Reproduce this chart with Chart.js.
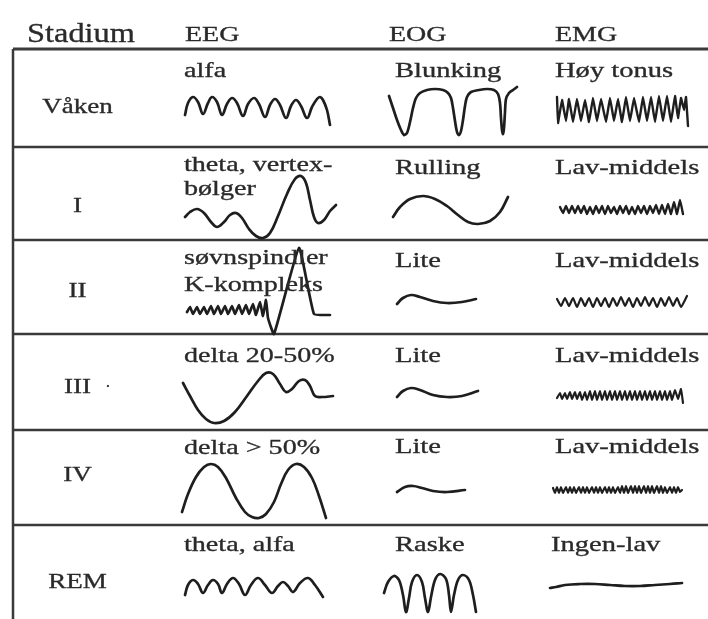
<!DOCTYPE html>
<html><head><meta charset="utf-8">
<script src="https://cdn.jsdelivr.net/npm/chart.js@4.4.0/dist/chart.umd.min.js"></script>
<style>
html,body{margin:0;padding:0;background:#fff;}
#wrap{position:relative;width:708px;height:619px;overflow:hidden;background:#fff;}
#c{position:absolute;left:0;top:0;}
#txt{position:absolute;left:0;top:0;}
#txt text{font-family:"Liberation Serif","Times New Roman",serif;fill:#2a2a2a;stroke:#2a2a2a;stroke-width:0.32px;}
</style></head>
<body><div id="wrap"><canvas id="c" width="708" height="619"></canvas><svg id="txt" width="708" height="619" xmlns="http://www.w3.org/2000/svg"></svg></div>
<script>
// ---------- DATA ----------
const headers = ['Stadium', 'EEG', 'EOG', 'EMG'];
const stages = ['Våken', 'I', 'II', 'III', 'IV', 'REM'];
const eegLabels = [['alfa'], ['theta, vertex-', 'bølger'], ['søvnspindler', 'K-kompleks'], ['delta 20-50%'], ['delta > 50%'], ['theta, alfa']];
const eogLabels = ['Blunking', 'Rulling', 'Lite', 'Lite', 'Lite', 'Raske'];
const emgLabels = ['Høy tonus', 'Lav-middels', 'Lav-middels', 'Lav-middels', 'Lav-middels', 'Ingen-lav'];

// waveform samples: [time, amplitude] (amplitude up = positive)
const eegVaken = [[0,0],[3,12],[8,18],[13,13],[18,1],[23,12],[27,18],[32,13],[37,0],[42,11],[47,17],[52,12],[58,-1],[63,11],[69,17],[74,11],[80,-2],[85,10],[90,16],[95,10],[101,-3],[106,9],[111,15],[116,9],[122,-3],[127,8],[132,16],[135,18],[138,15],[142,5],[145,-10]];
const eegI = [[0,0],[5,5],[12,8],[19,4],[26,-5],[32,-10],[39,-5],[45,2],[51,4],[57,-1],[64,-12],[71,-19],[78,-21],[85,-16],[93,1],[102,23],[110,38],[116,41],[121,34],[125,17],[129,0],[133,-6],[139,-3],[145,6],[151,12]];
const eegII = [[0,0],[3,5],[6,-2],[10,5],[13,-2],[17,5],[20,-2],[24,6],[27,-2],[31,6],[34,-2],[38,6],[41,-2],[45,6],[48,-2],[52,7],[55,-2],[59,7],[62,-2],[66,8],[69,-3],[73,10],[76,-4],[79,12],[81,-6],[87,-22],[112,64],[127,-2],[143,-3]];
const eegIII = [[0,0],[7,-13],[15,-27],[23,-36],[31,-40],[41,-38],[52,-29],[64,-13],[75,2],[83,10],[90,9],[97,-1],[103,-9],[109,-6],[116,2],[122,3],[127,-3],[132,-13],[139,-14],[150,-13]];
const eegIV = [[0,0],[6,18],[14,35],[22,45],[29,48],[36,45],[44,34],[54,14],[63,0],[70,-5],[77,-6],[84,-2],[92,10],[99,28],[106,42],[114,48],[122,45],[130,34],[137,16],[144,-6]];
const eegREM = [[0,-2],[3,8],[8,13],[13,9],[18,0],[23,8],[28,13],[33,9],[37,0],[42,9],[48,15],[54,9],[60,-2],[66,8],[73,15],[80,8],[87,0],[93,7],[98,11],[103,7],[108,1],[115,10],[123,15],[130,8],[138,-4]];

const eogVaken = [[1,-1],[5,-13],[9,-25],[13,-35],[16,-40],[19,-38],[22,-27],[25,-13],[28,-3],[32,2],[39,5],[47,6],[55,5],[60,2],[63,-3],[65,-13],[67,-26],[69,-37],[71,-40],[73,-36],[75,-25],[77,-11],[79,-2],[83,3],[91,5],[99,6],[106,5],[110,1],[112,-8],[113,-23],[114,-35],[115,-39],[116,-33],[117,-17],[118,-4],[121,2],[125,5],[129,8]];
const eogI = [[0,0],[7,10],[17,18],[30,21],[42,18],[54,11],[65,2],[75,-5],[85,-7],[97,-4],[107,5],[115,20]];
const eogII = [[0,-1],[6,5],[14,8],[23,6],[36,2],[50,0],[65,1],[79,4]];
const eogIII = [[0,-2],[6,4],[14,7],[23,5],[36,0],[50,-2],[65,-1],[81,4]];
const eogIV = [[0,-2],[8,3],[16,4],[25,2],[36,-1],[50,-2],[68,0]];
const eogREM = [[0,0],[4,11],[10,17],[15,13],[19,-2],[22,-19],[25,-5],[28,11],[33,18],[38,11],[41,-5],[44,-19],[47,-4],[51,13],[56,19],[62,14],[65,-2],[67,-19],[70,-2],[74,13],[79,18],[85,13],[89,-2],[92,-19]];

const emgVaken = [[0,13],[1,-13],[5,10],[9,-11],[12,11],[16,-12],[20,11],[24,-11],[28,10],[32,-12],[36,12],[40,-11],[44,11],[49,-12],[53,12],[57,-11],[61,11],[65,-12],[69,13],[73,-11],[77,12],[82,-12],[86,13],[90,-11],[94,13],[98,-12],[102,14],[106,-11],[110,14],[114,-12],[118,14],[121,-8],[124,12],[127,0],[129,13],[131,-16]];
const emgI = [[0,3],[3,-3],[6,4],[9,-3],[12,4],[15,-3],[18,4],[21,-3],[24,4],[27,-4],[30,3],[33,-4],[36,4],[39,-3],[42,4],[45,-4],[48,4],[51,-3],[54,3],[57,-4],[60,4],[63,-3],[66,4],[69,-4],[72,3],[75,-4],[78,4],[81,-3],[84,4],[87,-4],[90,4],[93,-3],[96,5],[99,-4],[102,5],[105,-4],[108,6],[111,-4],[114,8],[117,-4],[120,10],[123,-4]];
const emgII = [[0,3],[4,-4],[8,4],[12,-4],[16,4],[20,-5],[24,4],[28,-4],[32,4],[36,-5],[40,4],[44,-4],[48,4],[52,-5],[56,4],[60,-4],[64,5],[68,-4],[72,4],[76,-5],[80,4],[84,-4],[88,5],[92,-4],[96,4],[100,-5],[104,4],[108,-4],[112,5],[116,-4],[120,4],[124,-5],[130,6]];
const emgIII = [[0,-2],[3,3],[5,-3],[8,3],[10,-3],[13,4],[15,-3],[18,4],[20,-3],[23,4],[25,-4],[28,4],[30,-4],[33,5],[35,-4],[38,5],[40,-4],[43,5],[45,-4],[48,5],[50,-4],[53,5],[55,-4],[58,5],[60,-4],[63,5],[65,-4],[68,5],[70,-4],[73,5],[75,-4],[78,5],[80,-4],[83,5],[85,-4],[88,5],[90,-4],[93,5],[95,-4],[98,5],[100,-4],[103,5],[105,-4],[108,5],[110,-4],[113,5],[115,-4],[118,6],[121,-3],[124,7],[126,-7]];
const emgIV = [[0,2],[2,-3],[4,3],[6,-3],[8,3],[10,-3],[13,3],[15,-3],[17,3],[19,-3],[21,3],[23,-3],[26,3],[28,-3],[30,3],[32,-3],[34,3],[36,-3],[39,3],[41,-3],[43,3],[45,-3],[47,3],[49,-3],[52,3],[54,-3],[56,3],[58,-3],[60,3],[62,-3],[65,3],[67,-3],[69,4],[71,-3],[73,4],[75,-3],[78,4],[80,-3],[82,4],[84,-3],[86,4],[88,-3],[91,4],[93,-3],[95,4],[97,-3],[99,4],[101,-3],[104,4],[106,-3],[108,4],[110,-3],[112,3],[114,-3],[117,3],[119,-3],[121,3],[123,-3],[125,3],[127,-2],[129,0]];
const emgREM = [[0,-2],[6,-1],[15,1],[30,2],[45,2],[60,1],[75,0],[90,0],[105,1],[120,2],[132,3]];

// ---------- LAYOUT ----------
const W = 708, H = 619;
const rowEdges = [49, 147, 240, 334, 430, 525];
const tableLeft = 13;
// where each trace starts (cell anchor) and how it is drawn
const traces = [
  {d: eegVaken, at: [185, 115], t: 0.4},
  {d: eegI,     at: [185, 217], t: 0.4},
  {d: eegII,    at: [187, 312], t: 0.12},
  {d: eegIII,   at: [183, 383], t: 0.4},
  {d: eegIV,    at: [182, 512], t: 0.4},
  {d: eegREM,   at: [185, 593], t: 0.4},
  {d: eogVaken, at: [388, 95],  t: 0.3},
  {d: eogI,     at: [393, 217], t: 0.4},
  {d: eogII,    at: [397, 303], t: 0.4},
  {d: eogIII,   at: [397, 395], t: 0.4},
  {d: eogIV,    at: [397, 490], t: 0.4},
  {d: eogREM,   at: [384, 593], t: 0.35},
  {d: emgVaken, at: [557, 110], t: 0.05, w: 2.4},
  {d: emgI,     at: [560, 210], t: 0.1, w: 2.4},
  {d: emgII,    at: [557, 302], t: 0.15, w: 2.2},
  {d: emgIII,   at: [557, 396], t: 0.1, w: 2.2},
  {d: emgIV,    at: [553, 490], t: 0.1, w: 2.2},
  {d: emgREM,   at: [550, 586], t: 0.4}
];

// ---------- CHART ----------
const gridPlugin = {
  id: 'tableGrid',
  beforeDatasetsDraw(chart) {
    const {ctx, scales: {x, y}} = chart;
    ctx.save();
    ctx.strokeStyle = '#3a3a3a';
    ctx.lineCap = 'butt';
    rowEdges.forEach((r, i) => {
      ctx.lineWidth = i === 0 ? 3 : 2.5;
      ctx.beginPath();
      ctx.moveTo(x.getPixelForValue(tableLeft), y.getPixelForValue(r));
      ctx.lineTo(x.getPixelForValue(W), y.getPixelForValue(r));
      ctx.stroke();
    });
    ctx.lineWidth = 2.5;
    ctx.beginPath();
    ctx.moveTo(x.getPixelForValue(tableLeft), y.getPixelForValue(rowEdges[0]));
    ctx.lineTo(x.getPixelForValue(tableLeft), y.getPixelForValue(H));
    ctx.stroke();
    ctx.restore();
  }
};

new Chart(document.getElementById('c'), {
  type: 'line',
  data: {
    datasets: traces.map(tr => ({
      data: tr.d.map(([t, v]) => ({x: tr.at[0] + t, y: tr.at[1] - v})),
      borderColor: '#1e1e1e',
      borderWidth: tr.w || 2.7,
      tension: tr.t,
      pointRadius: 0,
      fill: false,
      clip: false,
      borderCapStyle: 'round',
      borderJoinStyle: 'round'
    }))
  },
  options: {
    responsive: false,
    animation: false,
    devicePixelRatio: 1,
    layout: {padding: 0},
    plugins: {legend: {display: false}, tooltip: {enabled: false}},
    events: [],
    scales: {
      x: {type: 'linear', min: 0, max: W, display: false},
      y: {type: 'linear', min: 0, max: H, reverse: true, display: false}
    }
  },
  plugins: [gridPlugin]
});

// ---------- TEXT ----------
const svg = document.getElementById('txt');
function addText(str, x, y, size, sx, anchor) {
  const t = document.createElementNS('http://www.w3.org/2000/svg', 'text');
  t.setAttribute('transform', `translate(${x},${y}) scale(${sx},1)`);
  t.setAttribute('font-size', size);
  t.setAttribute('text-anchor', anchor || 'start');
  t.textContent = str;
  svg.appendChild(t);
}
const colX = [27, 185, 389, 555];
addText(headers[0], colX[0], 42, 27, 1.2);
addText(headers[1], colX[1], 41, 20, 1.4);
addText(headers[2], colX[2], 41, 20, 1.4);
addText(headers[3], colX[3], 41, 20, 1.4);

const stageBase = [113, 212, 297, 393, 481, 588];
stages.forEach((s, i) => addText(s, 77.5, stageBase[i], 22, 1.23, 'middle'));
addText('·', 108, 392, 16, 1, 'middle');

const eegBase = [[77], [171, 195], [264, 291], [362], [454], [551]];
eegLabels.forEach((lines, i) => lines.forEach((l, j) => addText(l, 184, eegBase[i][j], 21, 1.34)));
const sideBase = [77, 174, 267, 362, 453, 551];
eogLabels.forEach((l, i) => addText(l, 395, sideBase[i], 21, 1.36));
emgLabels.forEach((l, i) => addText(l, i === 5 ? 551 : 555, sideBase[i], 21, 1.36));
</script>
</body></html>
